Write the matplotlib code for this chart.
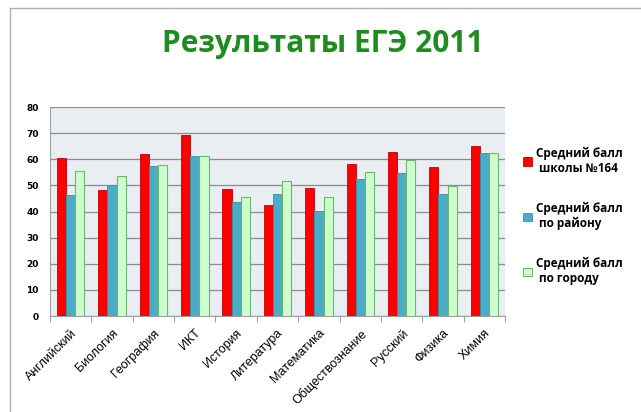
import matplotlib
matplotlib.use('Agg')
import matplotlib.pyplot as plt
import numpy as np

subjects = ['Английский', 'Биология', 'География', 'ИКТ', 'История', 'Литература',
            'Математика', 'Обществознание', 'Русский', 'Физика', 'Химия']
school = [60.7, 48.4, 61.9, 69.2, 48.7, 42.6, 49.1, 58.4, 62.9, 57.2, 65.0]
district = [46.2, 50.1, 57.4, 61.1, 43.8, 46.8, 40.3, 52.3, 54.6, 46.6, 62.5]
city = [55.6, 53.7, 57.9, 61.4, 45.7, 51.8, 45.5, 55.2, 59.7, 49.9, 62.5]
labels = ['Средний балл\n школы №164', 'Средний балл\n по району', 'Средний балл\n по городу']

fig = plt.figure(figsize=(6.41, 4.12), dpi=100)
ax = fig.add_axes([0.078, 0.233, 0.71, 0.507])
ax.set_facecolor('#e9eef2')

x = np.arange(len(subjects))
w = 0.222
b1 = ax.bar(x - w, school, w, color='#ff0000', edgecolor='#c00000', linewidth=0.6, zorder=3)
b2 = ax.bar(x, district, w, color='#4bacc6', edgecolor='#3a8fa8', linewidth=0.6, zorder=3)
b3 = ax.bar(x + w, city, w, color='#ccffcc', edgecolor='#6fb56f', linewidth=0.8, zorder=3)

ax.set_ylim(0, 80)
ax.set_xlim(-0.5, len(subjects) - 0.5)
ax.set_yticks(range(0, 81, 10))
ax.yaxis.grid(True, color='#8c8c8c', linewidth=0.9, zorder=0)
for s in ['top', 'right']:
    ax.spines[s].set_visible(False)
ax.spines['left'].set_color('#a0a0a0')
ax.spines['bottom'].set_color('#a0a0a0')
ax.tick_params(axis='y', length=0, labelsize=6.5, pad=8)
for t in ax.get_yticklabels():
    t.set_fontweight('bold')

ax.set_xticks(np.arange(-0.5, len(subjects)), minor=False)
ax.set_xticklabels([])
ax.tick_params(axis='x', length=4, color='#a0a0a0', direction='out')
ax.set_xticks(x, minor=True)
ax.set_xticklabels(subjects, minor=True, rotation=45, ha='right', rotation_mode='anchor',
                   fontsize=9, family='Liberation Sans')
ax.tick_params(axis='x', which='minor', length=0, pad=8)

fig.text(0.503, 0.893, 'Результаты ЕГЭ 2011', ha='center', va='center', fontsize=21.5,
         fontweight='bold', color='#1e8c1e', family='Open Sans')

leg = fig.legend([b1, b2, b3], labels, loc='upper left', bbox_to_anchor=(0.8, 0.67),
                 frameon=False, handlelength=0.7, handleheight=0.7, handletextpad=0.4,
                 labelspacing=2.3, prop={'family': 'Open Sans', 'weight': 'bold', 'size': 8.5})

# outer chart frame (top and left edges visible)
fig.add_artist(plt.Line2D([0.015, 1.0], [0.981, 0.981], transform=fig.transFigure,
                          color='#b0b0b0', linewidth=1))
fig.add_artist(plt.Line2D([0.015, 0.015], [0.0, 0.981], transform=fig.transFigure,
                          color='#b0b0b0', linewidth=1))

plt.savefig('out.png', dpi=100)
